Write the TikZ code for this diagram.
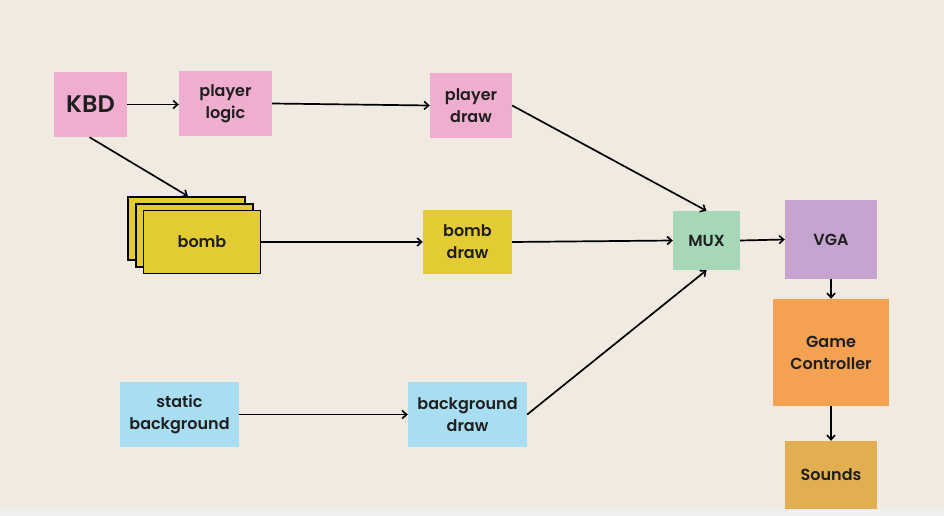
\documentclass[tikz,border=0pt]{standalone}
\usepackage{fontspec}
\setmainfont{Poppins}[BoldFont={Poppins SemiBold}]
\usetikzlibrary{arrows.meta}
\definecolor{bgc}{HTML}{F0EAE1}
\definecolor{stripc}{HTML}{F0F0EE}
\definecolor{pinkc}{HTML}{EFADD0}
\definecolor{yelc}{HTML}{E3CC33}
\definecolor{bluec}{HTML}{A9DDF1}
\definecolor{greenc}{HTML}{A6D8B8}
\definecolor{purc}{HTML}{C5A4CF}
\definecolor{orac}{HTML}{F4A152}
\definecolor{sndc}{HTML}{E1AE52}
\tikzset{
  blk/.style={inner sep=0pt, align=center, font=\bfseries\fontsize{16}{22}\selectfont, text=black!88},
  bombbox/.style={draw=black, line width=1.6pt, fill=yelc, minimum width=117pt, minimum height=63pt, inner sep=0pt},
  conn/.style={line width=1.7pt, -{Straight Barb[length=4.5pt,width=8pt,line width=1.6pt]}}
}
\begin{document}
\begin{tikzpicture}[x=1pt,y=-1pt]
\useasboundingbox (0,0) rectangle (944,516);
\fill[bgc] (0,0) rectangle (944,516);
\fill[stripc] (0,509) rectangle (944,516);

\node[blk, fill=pinkc, minimum width=73pt, minimum height=65pt, font=\bfseries\fontsize{24}{28}\selectfont] (kbd) at (90.5,104.5) {KBD};
\node[blk, fill=pinkc, minimum width=93pt, minimum height=65pt] (plogic) at (225.5,103.5) {player\\logic};
\node[blk, fill=pinkc, minimum width=82pt, minimum height=65pt] (pdraw) at (471,105.5) {player\\draw};

\node[bombbox] (bomb3) at (186.5,228.5) {};
\node[bombbox] (bomb2) at (194.5,235.5) {};
\node[bombbox, blk, draw=black, line width=1.6pt] (bomb) at (202,242) {bomb};

\node[blk, fill=yelc, minimum width=89pt, minimum height=64pt] (bdraw) at (467.5,242) {bomb\\draw};

\node[blk, fill=bluec, minimum width=119pt, minimum height=65pt] (sbg) at (179.5,414.5) {static\\background};
\node[blk, fill=bluec, minimum width=119pt, minimum height=65pt] (bgdraw) at (467.5,414.5) {background\\draw};

\node[blk, fill=greenc, minimum width=67pt, minimum height=59pt] (mux) at (706.5,240.5) {MUX};
\node[blk, fill=purc, minimum width=92pt, minimum height=79pt] (vga) at (831,239.5) {VGA};
\node[blk, fill=orac, minimum width=116pt, minimum height=107pt] (gc) at (831,352.5) {Game\\Controller};
\node[blk, fill=sndc, minimum width=92pt, minimum height=68pt] (snd) at (831,475) {Sounds};

\draw[conn] (kbd.east) -- (plogic.west |- kbd.east);
\draw[conn] (plogic.east) -- (pdraw.west);
\draw[conn] ([xshift=-1pt]kbd.south) -- ([xshift=1.5pt]bomb3.north);
\draw[conn] (pdraw.east) -- (mux.north);
\draw[conn] (bomb.east) -- (bdraw.west |- bomb.east);
\draw[conn] (bdraw.east) -- (mux.west);
\draw[conn] (bgdraw.east) -- (mux.south);
\draw[conn] (sbg.east) -- (bgdraw.west);
\draw[conn] (mux.east) -- (vga.west);
\draw[conn] (vga.south) -- (gc.north);
\draw[conn] (gc.south) -- (snd.north);
\end{tikzpicture}
\end{document}
